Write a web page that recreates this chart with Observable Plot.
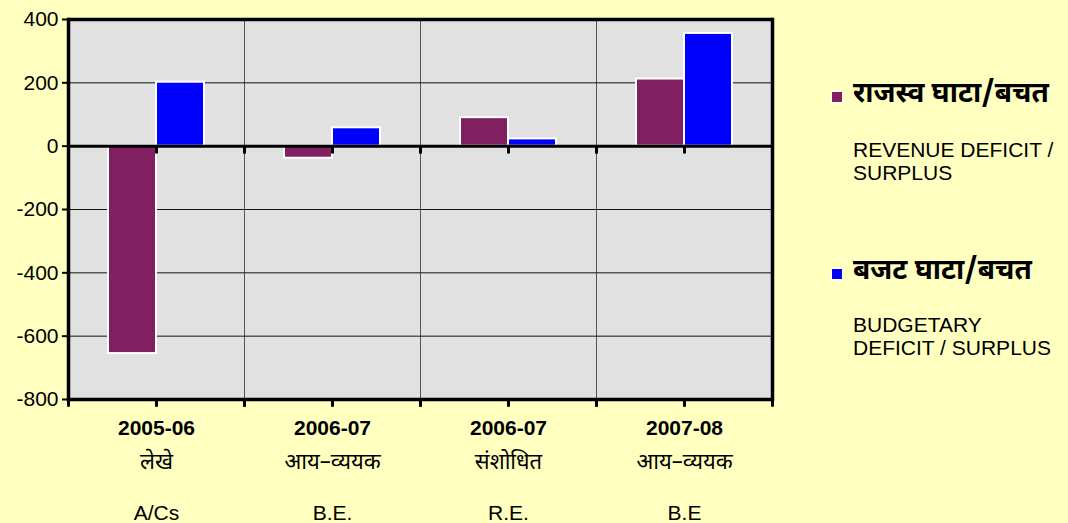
<!DOCTYPE html>
<html>
<head>
<meta charset="utf-8">
<script src="https://cdn.jsdelivr.net/npm/d3@7"></script>
<script src="https://cdn.jsdelivr.net/npm/@observablehq/plot@0.6"></script>
<style>
  html, body { margin: 0; padding: 0; background: #FFFFC0; }
  #wrap { position: relative; width: 1068px; height: 523px; overflow: hidden; background: #FFFFC0; }
  #chart { position: absolute; left: 0; top: 0; }
  .leg-sq { position: absolute; width: 10px; height: 10px; border: 1px solid #ffffff; }
  .leg-hi { position: absolute; font-family: "Noto Sans Devanagari", "Lohit Devanagari", "FreeSans", "Noto Sans", sans-serif; font-weight: bold; font-size: 28px; line-height: 28px; color: #000; white-space: nowrap; }
  .leg-en { position: absolute; font-family: "Liberation Sans", Arial, sans-serif; font-size: 21px; line-height: 23px; color: #000; white-space: nowrap; }
</style>
</head>
<body>
<div id="wrap">
  <div id="chart"></div>
  <div class="leg-sq" style="left:831px; top:91px; background:#802060;"></div>
  <div class="leg-hi" style="left:853px; top:81px;">राजस्व घाटा/बचत</div>
  <div class="leg-en" style="left:853px; top:138px;">REVENUE DEFICIT /<br>SURPLUS</div>
  <div class="leg-sq" style="left:831px; top:268px; background:#0000FF;"></div>
  <div class="leg-hi" style="left:853px; top:258px;">बजट घाटा/बचत</div>
  <div class="leg-en" style="left:853px; top:313px;">BUDGETARY<br>DEFICIT / SURPLUS</div>
</div>
<script>
// ---- data ----
const periodKeys = ["2005-06 A/Cs", "2006-07 B.E.", "2006-07 R.E.", "2007-08 B.E"];
const yearLabels = ["2005-06", "2006-07", "2006-07", "2007-08"];
const hindiLabels = ["लेखे", "आय–व्ययक", "संशोधित", "आय–व्ययक"];
const englishLabels = ["A/Cs", "B.E.", "R.E.", "B.E"];
const seriesKeys = ["revenue", "budgetary"];
const seriesColors = ["#802060", "#0000FF"];
const revenueValues = [-655, -38, 90, 212];
const budgetaryValues = [202, 58, 23, 356];
const yTicks = [400, 200, 0, -200, -400, -600, -800];
const gridValues = [200, -200, -400, -600];

// ---- table built from the arrays ----
const rows = [];
periodKeys.forEach((k, i) => {
  rows.push({period: k, series: "revenue", value: revenueValues[i]});
  rows.push({period: k, series: "budgetary", value: budgetaryValues[i]});
});
const labelRows = periodKeys.map((k, i) => ({period: k, year: yearLabels[i], hindi: hindiLabels[i], english: englishLabels[i]}));

const tickShape = { draw(context, l) { context.moveTo(0, 0); context.lineTo(0, -l); } };
const tickEnds = [0, -800];
const narrow = "'Liberation Sans Narrow', 'Arial Narrow', 'Liberation Sans', sans-serif";
const deva = "'Noto Sans Devanagari', 'Lohit Devanagari', FreeSans, 'Noto Sans', sans-serif";
const firstPeriod = periodKeys[0];
const lastPeriod = periodKeys[periodKeys.length - 1];

const chart = Plot.plot({
  width: 790,
  height: 523,
  marginLeft: 68,
  marginRight: 18,
  marginTop: 19,
  marginBottom: 124,
  style: {background: "transparent", fontFamily: "'Liberation Sans', Arial, sans-serif", fontSize: "21px", color: "#000", overflow: "visible"},
  fx: {domain: periodKeys, padding: 0, axis: null, label: null},
  x: {domain: seriesKeys, paddingInner: 0, paddingOuter: 0.8, axis: null},
  y: {domain: [-800, 400], label: null},
  color: {domain: seriesKeys, range: seriesColors},
  marks: [
    Plot.frame({fill: "#E1E1E1", stroke: "#555555", strokeWidth: 1}),
    Plot.ruleY(gridValues, {stroke: "#111111", strokeWidth: 1}),
    Plot.barY(rows, {fx: "period", x: "series", y: "value", fill: "series", stroke: "#ffffff", strokeWidth: 2}),
    Plot.ruleY([0], {stroke: "#000000", strokeWidth: 3}),
    Plot.ruleY([400, -800], {stroke: "#000000", strokeWidth: 3.5}),
    Plot.frame({anchor: "left", fx: () => firstPeriod, stroke: "#000000", strokeWidth: 3.5}),
    Plot.frame({anchor: "right", fx: () => lastPeriod, stroke: "#000000", strokeWidth: 3.5}),
    Plot.vector(tickEnds, {y: d => d, frameAnchor: "left", length: 6, rotate: 180, anchor: "start", shape: tickShape, stroke: "#000", strokeWidth: 3}),
    Plot.vector(tickEnds, {y: d => d, frameAnchor: "middle", length: 6, rotate: 180, anchor: "start", shape: tickShape, stroke: "#000", strokeWidth: 3}),
    Plot.vector(tickEnds, {y: d => d, frameAnchor: "right", length: 6, rotate: 180, anchor: "start", shape: tickShape, stroke: "#000", strokeWidth: 3}),
    Plot.axisY(yTicks, {tickSize: 6, tickPadding: 4, strokeWidth: 2, tickFormat: d => String(d), label: null}),
    Plot.text(labelRows, {fx: "period", frameAnchor: "bottom", lineAnchor: "top", dy: 21, text: "year", fontWeight: "bold", fontFamily: narrow, fontSize: 21}),
    Plot.text(labelRows, {fx: "period", frameAnchor: "bottom", lineAnchor: "top", dy: 54, text: "hindi", fontFamily: deva, fontSize: 22}),
    Plot.text(labelRows, {fx: "period", frameAnchor: "bottom", lineAnchor: "top", dy: 106, text: "english", fontFamily: narrow, fontSize: 21})
  ]
});
document.getElementById("chart").appendChild(chart);
</script>
</body>
</html>
